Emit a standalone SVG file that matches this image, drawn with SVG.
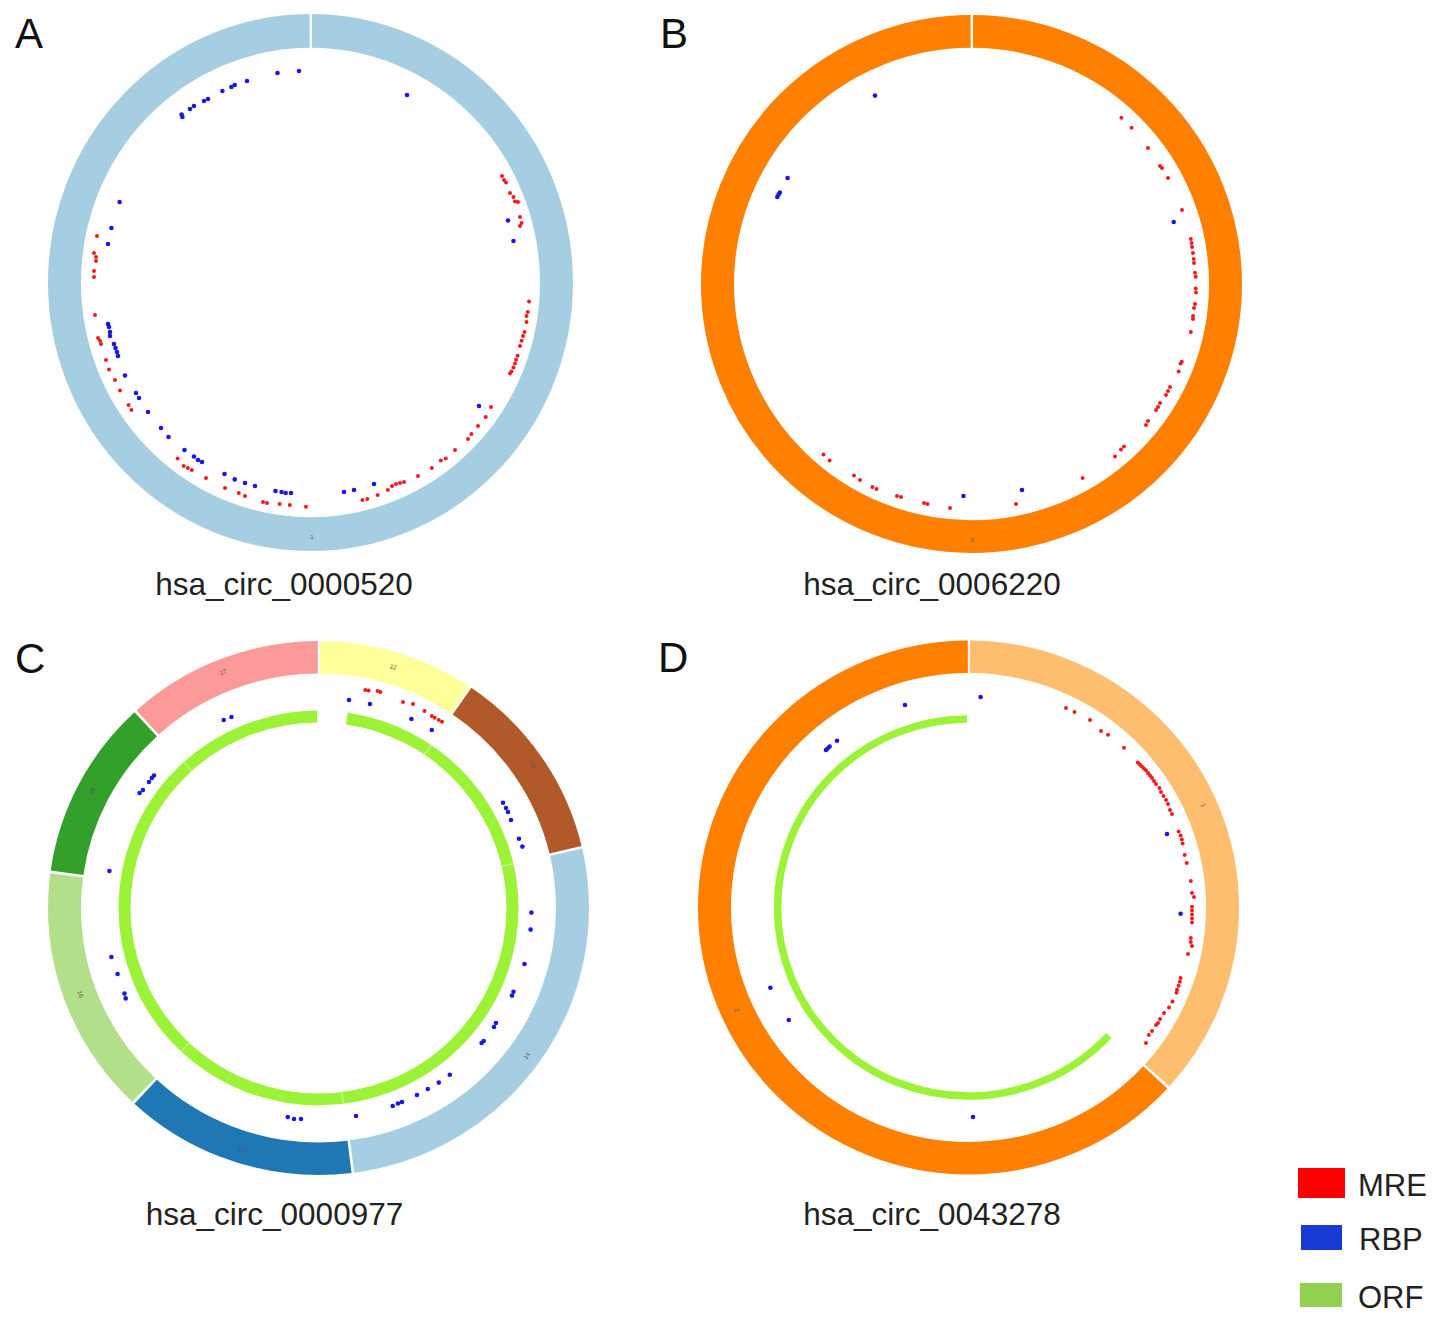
<svg xmlns="http://www.w3.org/2000/svg" width="1441" height="1325" viewBox="0 0 1441 1325">
<style>
  .ring { fill: none; }
  .b { fill: #1717e6; }
  .r { fill: #f21c1c; }
  .r circle { r: 2px; }
  .plab { font-family: "Liberation Sans", Arial, sans-serif; font-size: 42px; fill: #111; }
  .title { font-family: "Liberation Sans", Arial, sans-serif; font-size: 31.5px; fill: #222; text-anchor: middle; }
  .seg { font-family: "Liberation Sans", Arial, sans-serif; font-size: 6px; fill: #555; text-anchor: middle; }
  .leg { font-family: "Liberation Sans", Arial, sans-serif; font-size: 31px; fill: #222; }
  .orf { fill: none; stroke: #9cf236; }
</style>
<rect width="1441" height="1325" fill="#ffffff"/>

<!-- Panel A -->
<g id="panelA">
  <text class="plab" x="15" y="48">A</text>
  <g transform="translate(310.5,282.5) scale(1,1.0229) rotate(-90)">
    <circle class="ring" r="246" stroke="#a6cee3" stroke-width="33" stroke-dasharray="1542.66 9999" stroke-dashoffset="-1.503"/>
  </g>
  <text class="seg" x="312" y="539">1</text>
  <g id="A-dots">
    <g class="b">
      <circle cx="299" cy="71" r="2.3"/><circle cx="277.5" cy="73" r="2.3"/><circle cx="247" cy="81" r="2.3"/>
      <circle cx="234.7" cy="85" r="2.3"/><circle cx="231.4" cy="87" r="2.3"/><circle cx="222.4" cy="91" r="2.3"/>
      <circle cx="208" cy="99" r="2.3"/><circle cx="204" cy="101" r="2.3"/><circle cx="194" cy="106" r="2.3"/>
      <circle cx="190" cy="109" r="2.3"/><circle cx="182.4" cy="117" r="2.3"/><circle cx="181.6" cy="114.6" r="2.3"/>
      <circle cx="407" cy="95" r="2.3"/><circle cx="119.6" cy="202" r="2.3"/><circle cx="111.4" cy="228" r="2.3"/>
      <circle cx="108" cy="244" r="2.3"/><circle cx="508" cy="220.5" r="2.3"/><circle cx="513.5" cy="241" r="2.3"/>
      <circle cx="108" cy="324" r="2.3"/><circle cx="109" cy="327" r="2.3"/><circle cx="110" cy="332" r="2.3"/>
      <circle cx="110" cy="336" r="2.3"/><circle cx="114" cy="344" r="2.3"/><circle cx="115.5" cy="348" r="2.3"/>
      <circle cx="117" cy="352" r="2.3"/><circle cx="118" cy="356" r="2.3"/><circle cx="125" cy="375.5" r="2.3"/>
      <circle cx="136" cy="393" r="2.3"/><circle cx="139" cy="398" r="2.3"/><circle cx="148" cy="412" r="2.3"/>
      <circle cx="161" cy="428" r="2.3"/><circle cx="168.5" cy="437" r="2.3"/><circle cx="184.5" cy="450" r="2.3"/>
      <circle cx="194" cy="456.5" r="2.3"/><circle cx="198" cy="460" r="2.3"/><circle cx="202" cy="462" r="2.3"/>
      <circle cx="224.5" cy="474" r="2.3"/><circle cx="234.7" cy="479.4" r="2.3"/><circle cx="245" cy="483" r="2.3"/>
      <circle cx="255" cy="486" r="2.3"/><circle cx="275.5" cy="491" r="2.3"/><circle cx="281.6" cy="492" r="2.3"/>
      <circle cx="285.7" cy="493" r="2.3"/><circle cx="291" cy="493" r="2.3"/><circle cx="344" cy="492" r="2.3"/>
      <circle cx="354" cy="490" r="2.3"/><circle cx="374" cy="484" r="2.3"/><circle cx="479" cy="406" r="2.3"/>
    </g>
    <g class="r">
      <circle cx="502" cy="176" r="1.8"/><circle cx="504" cy="180" r="1.8"/><circle cx="506" cy="182.6" r="1.8"/>
      <circle cx="510" cy="193" r="1.8"/><circle cx="513.5" cy="197" r="1.8"/><circle cx="515" cy="201.6" r="1.8"/>
      <circle cx="518" cy="202" r="1.8"/><circle cx="520" cy="217" r="1.8"/><circle cx="521.6" cy="223" r="1.8"/>
      <circle cx="520" cy="226" r="1.8"/><circle cx="529" cy="301.6" r="1.8"/><circle cx="527.8" cy="312" r="1.8"/>
      <circle cx="526.5" cy="316" r="1.8"/><circle cx="526.5" cy="322" r="1.8"/><circle cx="524.5" cy="332" r="1.8"/>
      <circle cx="523" cy="336" r="1.8"/><circle cx="521.6" cy="340.7" r="1.8"/><circle cx="520" cy="346" r="1.8"/>
      <circle cx="517.6" cy="355.7" r="1.8"/><circle cx="516" cy="359.7" r="1.8"/><circle cx="515" cy="363.6" r="1.8"/>
      <circle cx="513.5" cy="367.6" r="1.8"/><circle cx="511.4" cy="371.5" r="1.8"/><circle cx="510" cy="373.5" r="1.8"/>
      <circle cx="491" cy="407" r="1.8"/><circle cx="485.7" cy="417" r="1.8"/><circle cx="478" cy="426" r="1.8"/>
      <circle cx="471.4" cy="434" r="1.8"/><circle cx="468" cy="439" r="1.8"/><circle cx="455" cy="450" r="1.8"/>
      <circle cx="445.7" cy="458.5" r="1.8"/><circle cx="440.8" cy="460.5" r="1.8"/><circle cx="431.8" cy="468" r="1.8"/>
      <circle cx="418" cy="476" r="1.8"/><circle cx="404" cy="482" r="1.8"/><circle cx="400" cy="483" r="1.8"/>
      <circle cx="396" cy="484" r="1.8"/><circle cx="392" cy="486" r="1.8"/><circle cx="387.8" cy="490" r="1.8"/>
      <circle cx="377.6" cy="495" r="1.8"/><circle cx="367.3" cy="499" r="1.8"/><circle cx="362.4" cy="500" r="1.8"/>
      <circle cx="97" cy="236" r="1.8"/><circle cx="94" cy="253" r="1.8"/><circle cx="96" cy="257" r="1.8"/>
      <circle cx="96" cy="261" r="1.8"/><circle cx="94" cy="271" r="1.8"/><circle cx="94" cy="277" r="1.8"/>
      <circle cx="95" cy="315" r="1.8"/><circle cx="98" cy="338" r="1.8"/><circle cx="100" cy="340.7" r="1.8"/>
      <circle cx="101" cy="344" r="1.8"/><circle cx="106" cy="360" r="1.8"/><circle cx="109" cy="369.6" r="1.8"/>
      <circle cx="115" cy="380" r="1.8"/><circle cx="120" cy="390.5" r="1.8"/><circle cx="128.6" cy="405" r="1.8"/>
      <circle cx="131.4" cy="410" r="1.8"/><circle cx="177.6" cy="458.5" r="1.8"/><circle cx="183.7" cy="466" r="1.8"/>
      <circle cx="187.8" cy="468" r="1.8"/><circle cx="191.8" cy="470" r="1.8"/><circle cx="206" cy="478" r="1.8"/>
      <circle cx="225" cy="488" r="1.8"/><circle cx="238.8" cy="493" r="1.8"/><circle cx="245" cy="496" r="1.8"/>
      <circle cx="263" cy="502" r="1.8"/><circle cx="267" cy="503" r="1.8"/><circle cx="279.6" cy="504" r="1.8"/>
      <circle cx="289.8" cy="505" r="1.8"/><circle cx="306" cy="506.7" r="1.8"/>
    </g>
  </g>
  <text class="title" x="284" y="595">hsa_circ_0000520</text>
</g>

<!-- Panel B -->
<g id="panelB">
  <text class="plab" x="660" y="48">B</text>
  <g transform="translate(971.5,284) scale(1,0.9945) rotate(-90)">
    <circle class="ring" r="254" stroke="#ff7f00" stroke-width="33" stroke-dasharray="1592.83 9999" stroke-dashoffset="-1.55"/>
  </g>
  <text class="seg" x="972.4" y="541.5">1</text>
  <g id="B-dots">
    <g class="b">
      <circle cx="875" cy="95.6" r="2.3"/><circle cx="787.6" cy="178" r="2.3"/><circle cx="779.8" cy="192.5" r="2.3"/>
      <circle cx="778.6" cy="194.5" r="2.3"/><circle cx="777.3" cy="197" r="2.3"/><circle cx="1173.7" cy="222" r="2.3"/>
      <circle cx="963.5" cy="496" r="2.3"/><circle cx="1022" cy="490" r="2.3"/>
    </g>
    <g class="r">
      <circle cx="1121.4" cy="117.8" r="1.8"/><circle cx="1131.6" cy="127.7" r="1.8"/><circle cx="1148" cy="148" r="1.8"/>
      <circle cx="1160" cy="166" r="1.8"/><circle cx="1162" cy="168" r="1.8"/><circle cx="1168" cy="178" r="1.8"/>
      <circle cx="1182" cy="210" r="1.8"/><circle cx="1190.8" cy="239" r="1.8"/><circle cx="1191.6" cy="243" r="1.8"/>
      <circle cx="1192" cy="247" r="1.8"/><circle cx="1193" cy="253" r="1.8"/><circle cx="1193.7" cy="259" r="1.8"/>
      <circle cx="1194" cy="263" r="1.8"/><circle cx="1195" cy="272.7" r="1.8"/><circle cx="1195.7" cy="276.7" r="1.8"/>
      <circle cx="1195.7" cy="288.5" r="1.8"/><circle cx="1196" cy="292.5" r="1.8"/><circle cx="1195" cy="304" r="1.8"/>
      <circle cx="1194" cy="308" r="1.8"/><circle cx="1193" cy="316" r="1.8"/><circle cx="1193" cy="319" r="1.8"/>
      <circle cx="1190.8" cy="332" r="1.8"/><circle cx="1181.8" cy="361.7" r="1.8"/><circle cx="1180.6" cy="363.6" r="1.8"/>
      <circle cx="1178.6" cy="371.5" r="1.8"/><circle cx="1170" cy="387" r="1.8"/><circle cx="1168" cy="391" r="1.8"/>
      <circle cx="1166" cy="395" r="1.8"/><circle cx="1160" cy="403" r="1.8"/><circle cx="1158" cy="407" r="1.8"/>
      <circle cx="1156" cy="410" r="1.8"/><circle cx="1148" cy="421" r="1.8"/><circle cx="1146" cy="425" r="1.8"/>
      <circle cx="1124" cy="446.6" r="1.8"/><circle cx="1121" cy="449.4" r="1.8"/><circle cx="1115" cy="456.5" r="1.8"/>
      <circle cx="1082.6" cy="478" r="1.8"/><circle cx="1016" cy="504" r="1.8"/><circle cx="950" cy="508" r="1.8"/>
      <circle cx="927.5" cy="504" r="1.8"/><circle cx="924" cy="503" r="1.8"/><circle cx="901" cy="497" r="1.8"/>
      <circle cx="897" cy="496" r="1.8"/><circle cx="876.5" cy="489" r="1.8"/><circle cx="872.4" cy="487" r="1.8"/>
      <circle cx="860" cy="480" r="1.8"/><circle cx="854" cy="475.5" r="1.8"/><circle cx="829.6" cy="460.5" r="1.8"/>
      <circle cx="823.5" cy="454.5" r="1.8"/>
    </g>
  </g>
  <text class="title" x="932" y="595">hsa_circ_0006220</text>
</g>

<!-- Panel C -->
<g id="panelC">
  <text class="plab" x="15" y="673">C</text>
  <g transform="translate(318.5,908) scale(1,0.98706) rotate(-90)">
    <circle class="ring" r="254" stroke="#ffff99" stroke-width="33" stroke-dasharray="148.51 9999" stroke-dashoffset="-1.33"/>
    <circle class="ring" r="254" stroke="#b15928" stroke-width="33" stroke-dasharray="186.63 9999" stroke-dashoffset="-152.50"/>
    <circle class="ring" r="254" stroke="#a6cee3" stroke-width="33" stroke-dasharray="422.03 9999" stroke-dashoffset="-341.79"/>
    <circle class="ring" r="254" stroke="#1f78b4" stroke-width="33" stroke-dasharray="221.21 9999" stroke-dashoffset="-766.48"/>
    <circle class="ring" r="254" stroke="#b2df8a" stroke-width="33" stroke-dasharray="239.39 9999" stroke-dashoffset="-990.35"/>
    <circle class="ring" r="254" stroke="#33a02c" stroke-width="33" stroke-dasharray="172.89 9999" stroke-dashoffset="-1232.40"/>
    <circle class="ring" r="254" stroke="#fb9a99" stroke-width="33" stroke-dasharray="186.63 9999" stroke-dashoffset="-1407.95"/>
    <circle class="orf" r="194" stroke-width="12" stroke-dasharray="1188.8 9999" stroke-dashoffset="-28.44"/>
    <g fill="none" stroke="#c9fb8e" stroke-width="12">
      <circle r="194" stroke-dasharray="1.2 9999" stroke-dashoffset="-115.46"/>
      <circle r="194" stroke-dasharray="1.2 9999" stroke-dashoffset="-260.04"/>
      <circle r="194" stroke-dasharray="1.2 9999" stroke-dashoffset="-584.41"/>
      <circle r="194" stroke-dasharray="1.2 9999" stroke-dashoffset="-755.40"/>
      <circle r="194" stroke-dasharray="1.2 9999" stroke-dashoffset="-1074.35"/>
    </g>
  </g>
  <text class="seg" transform="translate(223.7,674) rotate(-21)">17</text>
  <text class="seg" transform="translate(392.6,669) rotate(17)">12</text>
  <text class="seg" transform="translate(530.6,766) rotate(55)">13</text>
  <text class="seg" transform="translate(528.6,1057) rotate(-55)">14</text>
  <text class="seg" transform="translate(240.8,1152) rotate(18)">15</text>
  <text class="seg" transform="translate(78.4,995) rotate(70)">16</text>
  <text class="seg" transform="translate(93.9,792) rotate(-62)">18</text>
  <g id="C-dots">
    <g class="r">
      <circle cx="365.3" cy="690" r="1.8"/><circle cx="368.6" cy="690.5" r="1.8"/><circle cx="377.6" cy="691" r="1.8"/>
      <circle cx="380.4" cy="692" r="1.8"/><circle cx="403" cy="702" r="1.8"/><circle cx="413" cy="704" r="1.8"/>
      <circle cx="424.5" cy="711" r="1.8"/><circle cx="431.8" cy="716" r="1.8"/><circle cx="434.7" cy="717.7" r="1.8"/>
      <circle cx="438.8" cy="720" r="1.8"/><circle cx="442" cy="721.7" r="1.8"/>
    </g>
    <g class="b">
      <circle cx="349" cy="700" r="2.3"/><circle cx="370" cy="704" r="2.3"/><circle cx="411.4" cy="719" r="2.3"/>
      <circle cx="431.8" cy="730" r="2.3"/><circle cx="223.7" cy="720" r="2.3"/><circle cx="231.4" cy="717" r="2.3"/>
      <circle cx="154" cy="775.5" r="2.3"/><circle cx="151.8" cy="778" r="2.3"/><circle cx="149" cy="782" r="2.3"/>
      <circle cx="142.9" cy="790" r="2.3"/><circle cx="139.6" cy="793" r="2.3"/><circle cx="503" cy="802.7" r="2.3"/>
      <circle cx="506" cy="808" r="2.3"/><circle cx="508" cy="812" r="2.3"/><circle cx="511" cy="820" r="2.3"/>
      <circle cx="519" cy="838.7" r="2.3"/><circle cx="522.4" cy="846.6" r="2.3"/><circle cx="109.4" cy="871" r="2.3"/>
      <circle cx="531.4" cy="912.6" r="2.3"/><circle cx="530.6" cy="929.6" r="2.3"/><circle cx="524.5" cy="964" r="2.3"/>
      <circle cx="111.4" cy="957" r="2.3"/><circle cx="117.6" cy="974" r="2.3"/><circle cx="124.5" cy="993.6" r="2.3"/>
      <circle cx="125.7" cy="998.4" r="2.3"/><circle cx="513.5" cy="991.7" r="2.3"/><circle cx="512" cy="995.6" r="2.3"/>
      <circle cx="496" cy="1023" r="2.3"/><circle cx="494" cy="1027" r="2.3"/><circle cx="483.7" cy="1041" r="2.3"/>
      <circle cx="481.6" cy="1043" r="2.3"/><circle cx="449.8" cy="1074.7" r="2.3"/><circle cx="438.8" cy="1082.6" r="2.3"/>
      <circle cx="427.8" cy="1089" r="2.3"/><circle cx="417" cy="1095" r="2.3"/><circle cx="402" cy="1102" r="2.3"/>
      <circle cx="398" cy="1103.5" r="2.3"/><circle cx="392.7" cy="1106" r="2.3"/><circle cx="356" cy="1116" r="2.3"/>
      <circle cx="287.8" cy="1117" r="2.3"/><circle cx="294" cy="1119" r="2.3"/><circle cx="301" cy="1119" r="2.3"/>
    </g>
  </g>
  <text class="title" x="274.5" y="1225">hsa_circ_0000977</text>
</g>

<!-- Panel D -->
<g id="panelD">
  <text class="plab" x="658" y="672">D</text>
  <g transform="translate(968.5,907.5) scale(1,0.98706) rotate(-90)">
    <circle class="ring" r="254" stroke="#fdbf6f" stroke-width="33" stroke-dasharray="583.84 9999" stroke-dashoffset="-1.33"/>
    <circle class="ring" r="254" stroke="#ff7f00" stroke-width="33" stroke-dasharray="1006.76 9999" stroke-dashoffset="-587.83"/>
    <circle class="orf" r="191" stroke-width="7.5" stroke-dasharray="755.73 9999" stroke-dashoffset="-442.37"/>
  </g>
  <text class="seg" transform="translate(1201.5,806) rotate(66)">1</text>
  <text class="seg" transform="translate(735,1011) rotate(66)">2</text>
  <g id="D-dots">
    <g class="b">
      <circle cx="980.6" cy="697" r="2.3"/><circle cx="905" cy="705" r="2.3"/><circle cx="837" cy="740.7" r="2.3"/>
      <circle cx="829.6" cy="746.6" r="2.3"/><circle cx="827.6" cy="748.6" r="2.3"/><circle cx="826" cy="750" r="2.3"/>
      <circle cx="1167" cy="834" r="2.3"/><circle cx="1180.6" cy="913.8" r="2.3"/><circle cx="770.4" cy="987.7" r="2.3"/>
      <circle cx="788.8" cy="1020" r="2.3"/><circle cx="973" cy="1117" r="2.3"/>
    </g>
    <g class="r">
      <circle cx="1066" cy="708" r="1.8"/><circle cx="1074.5" cy="712" r="1.8"/><circle cx="1090" cy="720" r="1.8"/>
      <circle cx="1101" cy="731" r="1.8"/><circle cx="1108" cy="734.7" r="1.8"/><circle cx="1124" cy="747.8" r="1.8"/>
      <circle cx="1137.8" cy="762.4" r="1.8"/><circle cx="1139.8" cy="764.4" r="1.8"/><circle cx="1141.8" cy="766.4" r="1.8"/>
      <circle cx="1143.9" cy="768.4" r="1.8"/><circle cx="1145.9" cy="770.3" r="1.8"/><circle cx="1148" cy="773" r="1.8"/>
      <circle cx="1150" cy="775.5" r="1.8"/><circle cx="1152" cy="778" r="1.8"/><circle cx="1154" cy="781" r="1.8"/>
      <circle cx="1156" cy="784" r="1.8"/><circle cx="1159.4" cy="788" r="1.8"/><circle cx="1161" cy="792" r="1.8"/>
      <circle cx="1163.5" cy="796" r="1.8"/><circle cx="1166" cy="800" r="1.8"/><circle cx="1168" cy="804" r="1.8"/>
      <circle cx="1170" cy="810" r="1.8"/><circle cx="1172" cy="814" r="1.8"/><circle cx="1178.6" cy="831.6" r="1.8"/>
      <circle cx="1180.6" cy="835.5" r="1.8"/><circle cx="1181.8" cy="839.5" r="1.8"/><circle cx="1182.6" cy="843.4" r="1.8"/>
      <circle cx="1184.7" cy="855" r="1.8"/><circle cx="1186.7" cy="863" r="1.8"/><circle cx="1190.8" cy="881" r="1.8"/>
      <circle cx="1192" cy="893" r="1.8"/><circle cx="1194" cy="897" r="1.8"/><circle cx="1192" cy="906.7" r="1.8"/>
      <circle cx="1192" cy="910.6" r="1.8"/><circle cx="1192" cy="914.6" r="1.8"/><circle cx="1192" cy="918.5" r="1.8"/>
      <circle cx="1192" cy="922.5" r="1.8"/><circle cx="1190.8" cy="938" r="1.8"/><circle cx="1190.8" cy="942" r="1.8"/>
      <circle cx="1192" cy="946" r="1.8"/><circle cx="1188" cy="954" r="1.8"/><circle cx="1180.6" cy="978" r="1.8"/>
      <circle cx="1179.8" cy="981.8" r="1.8"/><circle cx="1178.6" cy="985.7" r="1.8"/><circle cx="1177" cy="989.7" r="1.8"/>
      <circle cx="1176.5" cy="992.8" r="1.8"/><circle cx="1172.4" cy="1001.5" r="1.8"/><circle cx="1169" cy="1007.5" r="1.8"/>
      <circle cx="1164" cy="1013" r="1.8"/><circle cx="1160" cy="1019" r="1.8"/><circle cx="1158" cy="1023" r="1.8"/>
      <circle cx="1156" cy="1025" r="1.8"/><circle cx="1152" cy="1031" r="1.8"/><circle cx="1148.8" cy="1035" r="1.8"/>
      <circle cx="1146" cy="1043" r="1.8"/>
    </g>
  </g>
  <text class="title" x="932" y="1225">hsa_circ_0043278</text>
</g>

<!-- Legend -->
<g id="legend">
  <g id="legend-MRE">
    <rect x="1298" y="1168" width="47" height="30" fill="#ff0000"/>
    <text class="leg" x="1358" y="1196">MRE</text>
  </g>
  <g id="legend-RBP">
    <rect x="1301" y="1225" width="41" height="25" fill="#1a3ad6"/>
    <text class="leg" x="1359" y="1250">RBP</text>
  </g>
  <g id="legend-ORF">
    <rect x="1300" y="1283" width="42" height="24" fill="#92d050"/>
    <text class="leg" x="1358" y="1308">ORF</text>
  </g>
</g>
</svg>
